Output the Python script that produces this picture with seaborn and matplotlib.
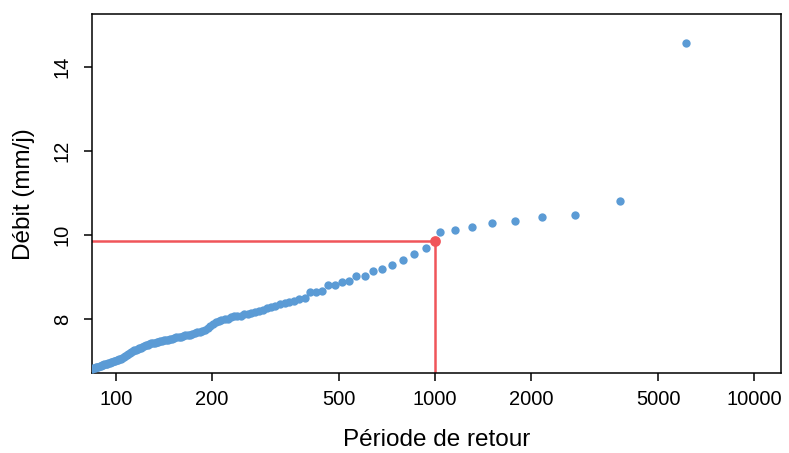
import numpy as np
import pandas as pd
import matplotlib
matplotlib.use("Agg")
import matplotlib.pyplot as plt
from matplotlib.ticker import FixedLocator, FixedFormatter, NullLocator
import seaborn as sns

# return period (years) and discharge (mm/j)
periode = [6098, 3788, 2747, 2155, 1773, 1506, 1309, 1157, 1037, 938,
           859, 791, 733, 683, 639, 601, 567, 537, 509, 485,
           462, 442, 423, 406, 390, 375, 362, 349, 338, 326,
           316, 306, 297, 288, 280, 273, 265, 259, 252, 246,
           240, 234, 229, 224, 219, 214, 210, 206, 201, 197.5,
           193.6, 190.0, 186.4, 183.0, 179.7, 176.5, 173.5, 170.4, 167.7, 164.9,
           162.2, 159.6, 157.1, 154.7, 152.3, 150.0, 147.8, 145.6, 143.6, 141.6,
           139.6, 137.7, 135.8, 134.0, 132.2, 130.5, 128.8, 127.2, 125.6, 124.0,
           122.5, 121.0, 119.6, 118.2, 116.8, 115.4, 114.1, 112.8, 111.5, 110.3,
           109.1, 107.9, 106.8, 105.7, 104.6, 103.5, 102.4, 101.4, 100.4, 99.4,
           98.4, 97.4, 96.5, 95.6, 94.6, 93.8, 92.9, 92.0, 91.2, 90.4,
           89.6, 88.8, 88.0, 87.2, 86.5, 85.7, 85.0, 84.3]
debit = [14.56, 10.80, 10.48, 10.42, 10.32, 10.29, 10.19, 10.12, 10.06, 9.68,
         9.55, 9.40, 9.28, 9.19, 9.15, 9.03, 9.03, 8.90, 8.87, 8.81,
         8.80, 8.67, 8.65, 8.63, 8.51, 8.48, 8.43, 8.40, 8.39, 8.35,
         8.31, 8.29, 8.25, 8.21, 8.19, 8.17, 8.14, 8.12, 8.11, 8.08,
         8.07, 8.06, 8.05, 8.01, 8.00, 7.98, 7.96, 7.93, 7.88, 7.83,
         7.79, 7.75, 7.71, 7.69, 7.68, 7.66, 7.64, 7.63, 7.62, 7.61,
         7.60, 7.58, 7.57, 7.56, 7.55, 7.53, 7.52, 7.51, 7.50, 7.49,
         7.48, 7.47, 7.46, 7.45, 7.44, 7.43, 7.42, 7.40, 7.38, 7.37,
         7.35, 7.33, 7.32, 7.30, 7.29, 7.27, 7.26, 7.23, 7.21, 7.19,
         7.17, 7.14, 7.12, 7.10, 7.08, 7.06, 7.04, 7.03, 7.02, 7.00,
         6.99, 6.98, 6.97, 6.96, 6.95, 6.94, 6.93, 6.92, 6.91, 6.90,
         6.89, 6.88, 6.87, 6.86, 6.85, 6.84, 6.83, 6.82]

# value read at T = 1000 ans
t_ref = 1000
q_ref = 9.86

xticks = [100, 200, 500, 1000, 2000, 5000, 10000]
yticks = [8, 10, 12, 14]

df = pd.DataFrame({"periode": periode, "debit": debit})

sns.set_style("ticks")
plt.rcParams['font.family'] = ['Liberation Sans', 'DejaVu Sans']

fig = plt.figure(figsize=(7.89, 4.53), dpi=100)
ax = fig.add_axes([0.117, 0.176, 0.8725, 0.7924])

blue = "#5B9BD5"
red = "#F0555A"

sns.scatterplot(data=df, x="periode", y="debit", color=blue, s=36,
                linewidth=0, ax=ax, zorder=3)

ax.set_xscale("log")
ax.set_xlim(84.3, 12100)
ax.set_ylim(6.709, 15.246)

# return level lines
ax.plot([t_ref, t_ref], [6.709, q_ref], color=red, lw=1.8, zorder=2)
ax.plot([84.3, t_ref], [q_ref, q_ref], color=red, lw=1.8, zorder=2)
ax.scatter([t_ref], [q_ref], color=red, s=60, marker="o", zorder=4, linewidth=0)

ax.xaxis.set_major_locator(FixedLocator(xticks))
ax.xaxis.set_major_formatter(FixedFormatter([str(t) for t in xticks]))
ax.xaxis.set_minor_locator(NullLocator())
ax.set_yticks(yticks)
ax.set_yticklabels([str(t) for t in yticks], rotation=90, va="center")

ax.tick_params(axis="both", direction="out", length=5.8, width=1.1,
               labelsize=14.5, colors="black")
ax.tick_params(axis="x", pad=6.5)
ax.tick_params(axis="y", pad=9)

for sp in ax.spines.values():
    sp.set_visible(True)
    sp.set_color("black")
    sp.set_linewidth(1.1)

ax.set_xlabel("Période de retour", fontsize=17.5, labelpad=14, color="black")
ax.set_ylabel("Débit (mm/j)", fontsize=17.5, labelpad=13, color="black")

fig.savefig("out.png", dpi=100)
